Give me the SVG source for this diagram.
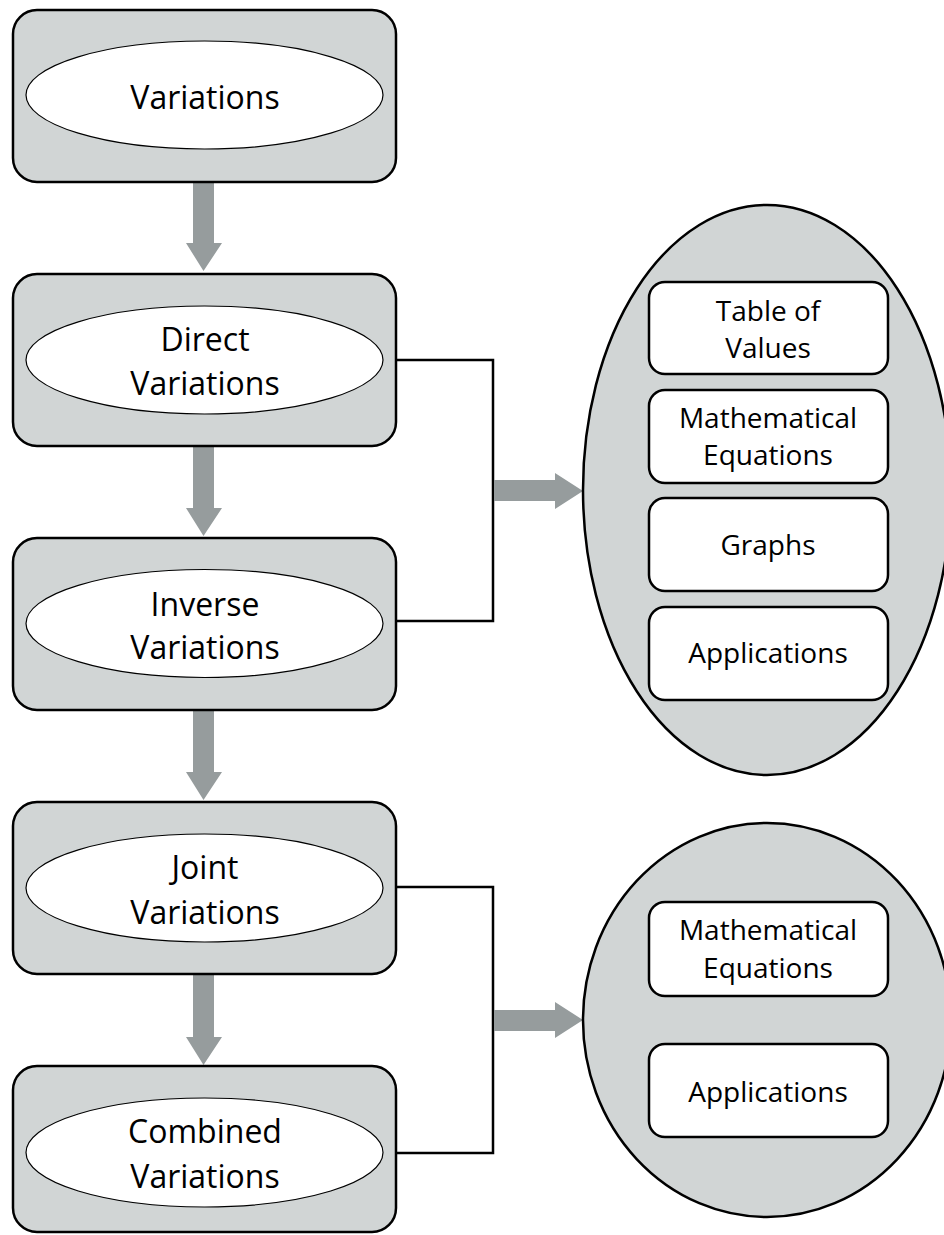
<svg xmlns="http://www.w3.org/2000/svg" width="944" height="1235" viewBox="0 0 944 1235">
<style>
.box{fill:#d1d5d5;stroke:#000;stroke-width:2.5}
.oval{fill:#fff;stroke:#000;stroke-width:1.2}
.big{fill:#d1d5d5;stroke:#000;stroke-width:2.5}
.item{fill:#fff;stroke:#000;stroke-width:2.5}
.arr{fill:#969c9d}
.wire{fill:none;stroke:#000;stroke-width:2.5}
.t{font-family:"Open Sans","Noto Sans",sans-serif;font-size:32px;fill:#000;text-anchor:middle}
.s{font-family:"Open Sans","Noto Sans",sans-serif;font-size:28px;fill:#000;text-anchor:middle}
</style>
<rect width="944" height="1235" fill="#fff"/>
<g id="connectors">
<polygon class="arr" points="193,182 214,182 214,243 222,243 203.5,271 186,243 193,243"/>
<polygon class="arr" points="193,446 214,446 214,508 222,508 203.5,536 186,508 193,508"/>
<polygon class="arr" points="193,710 214,710 214,772 222,772 203.5,800 186,772 193,772"/>
<polygon class="arr" points="193,974 214,974 214,1037 222,1037 203.5,1065 186,1037 193,1037"/>
<polyline class="wire" points="397,360 493,360 493,621 397,621"/>
<polygon class="arr" points="494,480 555,480 555,473 583,491 555,509 555,501 494,501"/>
<polyline class="wire" points="397,887 493,887 493,1153 397,1153"/>
<polygon class="arr" points="494,1010 555,1010 555,1002 583,1020 555,1038 555,1031 494,1031"/>
</g>
<g id="n-variations">
<rect class="box" x="13" y="10" width="383" height="172" rx="24"/>
<ellipse class="oval" cx="204.5" cy="95" rx="178.5" ry="54"/>
<text class="t" x="205" y="109">Variations</text>
</g>
<g id="n-direct">
<rect class="box" x="13" y="274" width="383" height="172" rx="24"/>
<ellipse class="oval" cx="204.5" cy="360" rx="178.5" ry="54"/>
<text class="t" x="205" y="351">Direct</text>
<text class="t" x="205" y="395">Variations</text>
</g>
<g id="n-inverse">
<rect class="box" x="13" y="538" width="383" height="172" rx="24"/>
<ellipse class="oval" cx="204.5" cy="623.5" rx="178.5" ry="54"/>
<text class="t" x="205" y="616">Inverse</text>
<text class="t" x="205" y="659">Variations</text>
</g>
<g id="n-joint">
<rect class="box" x="13" y="802" width="383" height="172" rx="24"/>
<ellipse class="oval" cx="204.5" cy="888" rx="178.5" ry="54"/>
<text class="t" x="205" y="879">Joint</text>
<text class="t" x="205" y="924">Variations</text>
</g>
<g id="n-combined">
<rect class="box" x="13" y="1066" width="383" height="166" rx="24"/>
<ellipse class="oval" cx="204.5" cy="1152.5" rx="178.5" ry="54.5"/>
<text class="t" x="205" y="1143">Combined</text>
<text class="t" x="205" y="1188">Variations</text>
</g>
<g id="n-group1">
<ellipse class="big" cx="767" cy="490" rx="184" ry="285"/>
<rect class="item" x="649" y="282" width="239" height="92" rx="16"/>
<text class="s" x="768" y="321">Table of</text>
<text class="s" x="768" y="358">Values</text>
<rect class="item" x="649" y="390" width="239" height="93" rx="16"/>
<text class="s" x="768" y="428">Mathematical</text>
<text class="s" x="768" y="465">Equations</text>
<rect class="item" x="649" y="498" width="239" height="93" rx="16"/>
<text class="s" x="768" y="555">Graphs</text>
<rect class="item" x="649" y="607" width="239" height="93" rx="16"/>
<text class="s" x="768" y="663">Applications</text>
</g>
<g id="n-group2">
<ellipse class="big" cx="767" cy="1020" rx="184" ry="197"/>
<rect class="item" x="649" y="902" width="239" height="94" rx="16"/>
<text class="s" x="768" y="940">Mathematical</text>
<text class="s" x="768" y="978">Equations</text>
<rect class="item" x="649" y="1044" width="239" height="93" rx="16"/>
<text class="s" x="768" y="1102">Applications</text>
</g>
</svg>
